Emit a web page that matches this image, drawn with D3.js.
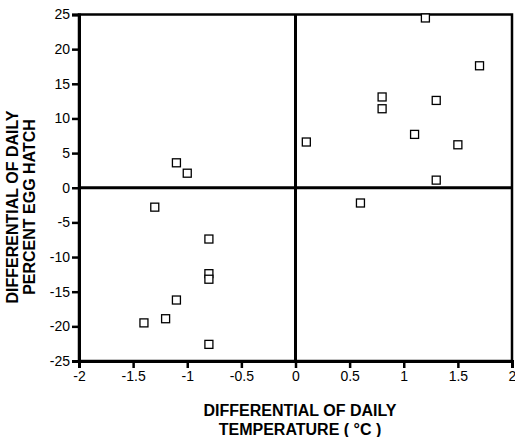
<!DOCTYPE html>
<html><head><meta charset="utf-8">
<script src="https://cdn.jsdelivr.net/npm/d3@7"></script>
<style>body{margin:0;background:#fff}</style>
</head><body>
<svg id="c" width="515" height="437"></svg>
<script>
const tempDiff = [1.2, 1.7, 0.8, 0.8, 1.3, 1.1, 1.5, 0.1, 1.3, 0.6,
                  -1.1, -1.0, -1.3, -0.8, -0.8, -0.8, -1.1, -1.2, -1.4, -0.8];
const hatchDiff = [24.5, 17.6, 13.1, 11.4, 12.6, 7.7, 6.2, 6.6, 1.1, -2.2,
                   3.6, 2.1, -2.8, -7.4, -12.4, -13.2, -16.2, -18.9, -19.5, -22.6];
const xTicks = [-2, -1.5, -1, -0.5, 0, 0.5, 1, 1.5, 2];
const yTicks = [-25, -20, -15, -10, -5, 0, 5, 10, 15, 20, 25];

const svg = d3.select("#c");
const L = 79, R = 512, T = 14.5, B = 361;
const x = d3.scaleLinear().domain([-2, 2]).range([L, R]);
const y = d3.scaleLinear().domain([-25, 25]).range([B, T]);
const font = "Liberation Sans, Arial, Helvetica, sans-serif";
const fmt = d => String(d);

// frame
svg.append("rect").attr("x", L).attr("y", T).attr("width", R - L).attr("height", B - T)
  .attr("fill", "none").attr("stroke", "#000").attr("stroke-width", 2.5);
// zero lines
svg.append("line").attr("x1", L).attr("x2", R).attr("y1", y(0)).attr("y2", y(0))
  .attr("stroke", "#000").attr("stroke-width", 3);
svg.append("line").attr("x1", x(0)).attr("x2", x(0)).attr("y1", T).attr("y2", B)
  .attr("stroke", "#000").attr("stroke-width", 3);

const xAxis = svg.append("g").attr("transform", `translate(0,${B})`)
  .call(d3.axisBottom(x).tickValues(xTicks).tickSize(7).tickPadding(3).tickFormat(fmt));
const yAxis = svg.append("g").attr("transform", `translate(${L},0)`)
  .call(d3.axisLeft(y).tickValues(yTicks).tickSize(7).tickPadding(2).tickFormat(fmt));
[xAxis, yAxis].forEach(g => {
  g.select(".domain").attr("stroke-width", 3);
  g.selectAll(".tick line").attr("stroke-width", 2.5);
  g.selectAll("text").attr("font-family", font).attr("font-size", 14).attr("fill", "#000");
});

// points
svg.append("g").selectAll("rect").data(tempDiff).join("rect")
  .attr("x", (d, i) => x(d) - 4).attr("y", (d, i) => y(hatchDiff[i]) - 4)
  .attr("width", 8).attr("height", 8)
  .attr("fill", "#fff").attr("stroke", "#000").attr("stroke-width", 1.3);

// titles
const xt = svg.append("text").attr("font-family", font).attr("font-weight", "bold")
  .attr("font-size", 16).attr("text-anchor", "middle");
xt.append("tspan").attr("x", 300).attr("y", 416).text("DIFFERENTIAL OF DAILY");
xt.append("tspan").attr("x", 300).attr("y", 435).text("TEMPERATURE ( °C )");

const yt = svg.append("text").attr("font-family", font).attr("font-weight", "bold")
  .attr("font-size", 16).attr("text-anchor", "middle")
  .attr("transform", "translate(0,207) rotate(-90)");
yt.append("tspan").attr("x", 0).attr("y", 18).text("DIFFERENTIAL OF DAILY");
yt.append("tspan").attr("x", 0).attr("y", 35).text("PERCENT EGG HATCH");
</script>
</body></html>
